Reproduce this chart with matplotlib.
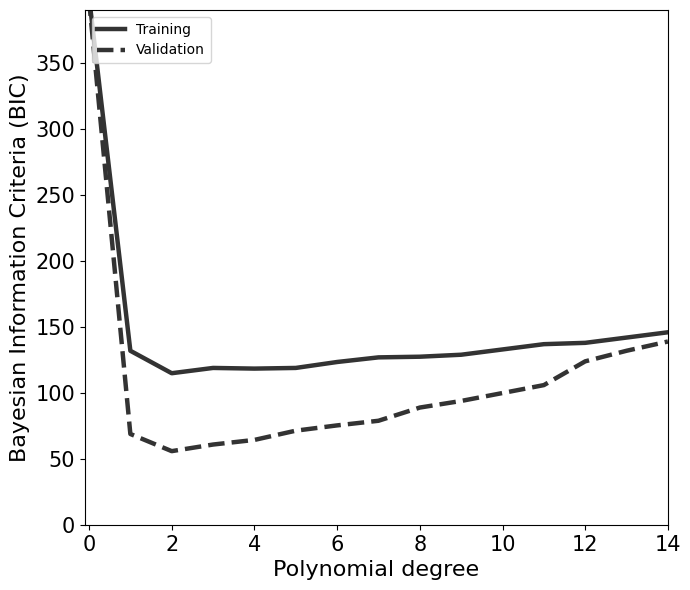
import numpy as np
import matplotlib
matplotlib.use('Agg')
import matplotlib.pyplot as plt

#data
degrees = np.arange(0, 15)
bic_train = [400, 132, 115, 119, 118.5, 119, 123.5, 127, 127.5, 129, 133, 137, 138, 142, 146]
bic_valid = [398, 69, 56, 61, 64.5, 71.5, 75.5, 79, 89, 94, 100, 106, 124, 132, 139]

fig = plt.figure(figsize=(6.9, 5.9), dpi=100)
ax = fig.add_axes([0.123, 0.110, 0.845, 0.873])

ax.plot(degrees, bic_train, '-', color='#333333', lw=3.2, label='Training')
ax.plot(degrees, bic_valid, '--', color='#333333', lw=3.2, label='Validation')

ax.set_xlim(-0.1, 14)
ax.set_ylim(0, 390)
ax.set_xticks(np.arange(0, 15, 2))
ax.tick_params(labelsize=15)
ax.set_xlabel('Polynomial degree', fontsize=16)
ax.set_ylabel('Bayesian Information Criteria (BIC)', fontsize=16)
ax.legend(loc='upper left', fontsize=10)

fig.savefig('out.png')
